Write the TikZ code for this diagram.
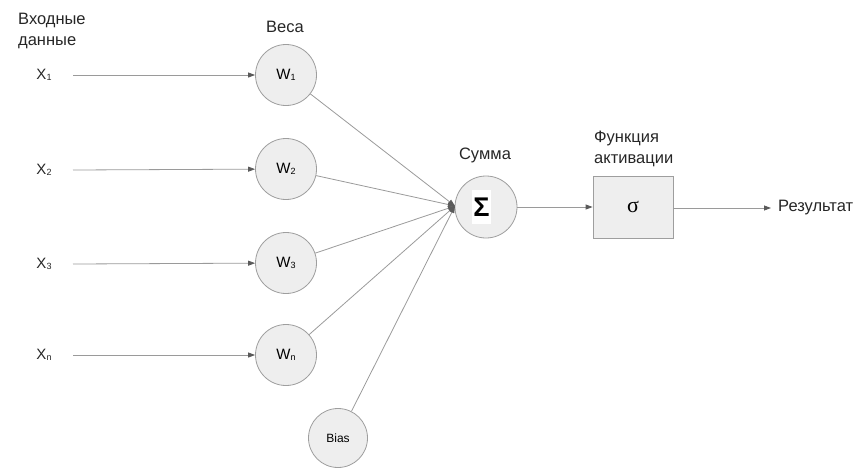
\documentclass[tikz,border=0pt]{standalone}
\usepackage{fontspec}
\setmainfont{Liberation Sans}
\newfontfamily\serifsig{Liberation Serif}
\usetikzlibrary{arrows.meta}
\definecolor{linegray}{HTML}{9A9A9A}
\definecolor{headgray}{HTML}{5A5A5A}
\definecolor{circfill}{HTML}{EEEEEE}
\definecolor{circdraw}{HTML}{9E9E9E}
\begin{document}
\begin{tikzpicture}[x=1pt,y=-1pt,
  lbl/.style={font=\fontsize{16.5}{19}\selectfont, text=black!85, inner sep=0pt},
  xin/.style={font=\fontsize{15}{17}\selectfont, text=black!85, inner sep=0pt},
  wcirc/.style={circle, draw=circdraw, fill=circfill, minimum size=61pt, inner sep=0pt, font=\fontsize{15}{17}\selectfont, line width=0.8pt},
  conn/.style={draw=linegray, line width=0.8pt, -{Triangle[length=7pt,width=5pt,color=headgray]}}
]
\useasboundingbox (0,0) rectangle (859,475);
\newcommand{\sbs}[1]{\raisebox{-0.5pt}{\fontsize{9}{10}\selectfont #1}}
% titles
\node[lbl, anchor=north west, align=left] (tin) at (18,13) {Входные\\[2pt]данные};
\node[lbl] (tw) at (285,27) {Веса};
\node[lbl] (ts) at (485,155) {Сумма};
\node[lbl, anchor=north west, align=left] (ta) at (594,131) {Функция\\[2pt]активации};
% inputs
\node[xin] (x1) at (44,75) {X\sbs{1}};
\node[xin] (x2) at (44,170) {X\sbs{2}};
\node[xin] (x3) at (44,264) {X\sbs{3}};
\node[xin] (xn) at (44,355) {X\sbs{n}};
% weights
\node[wcirc] (w1) at (286,75) {W\sbs{1}};
\node[wcirc] (w2) at (286,169) {W\sbs{2}};
\node[wcirc] (w3) at (286,263) {W\sbs{3}};
\node[wcirc] (wn) at (286,355) {W\sbs{n}};
\node[wcirc, minimum size=59pt, font=\fontsize{12}{14}\selectfont] (bias) at (338,438) {Bias};
% sum
\node[wcirc, minimum size=62pt] (sum) at (486,207) {};
\node[fill=white, inner sep=0pt, minimum width=19pt, minimum height=34pt, font=\fontsize{27}{29}\bfseries\selectfont] (sig) at (481.5,207) {Σ};
% activation
\node[draw=circdraw, fill=circfill, line width=0.8pt, minimum width=80pt, minimum height=62pt, inner sep=0pt, font=\serifsig\fontsize{22}{24}\selectfont] (act) at (633,207) {σ};
\node[lbl, anchor=west] (res) at (778,208) {Результат};
% input arrows
\coordinate (s1) at (73,75);
\coordinate (s2) at (73,170);
\coordinate (s3) at (73,264);
\coordinate (sn) at (73,355);
\draw[conn] (s1) -- (w1);
\draw[conn] (s2) -- (w2);
\draw[conn] (s3) -- (w3);
\draw[conn] (sn) -- (wn);
% converging
\coordinate (conv) at (455,206);
\draw[conn] (w1) -- (conv);
\draw[conn] (w2) -- (conv);
\draw[conn] (w3) -- (conv);
\draw[conn] (wn) -- (conv);
\draw[conn] (bias) -- (conv);
% sum to activation
\draw[conn] (sum) -- (act);
\coordinate (rend) at (771,208);
\draw[conn] (act.east |- rend) -- (rend);
\end{tikzpicture}
\end{document}
